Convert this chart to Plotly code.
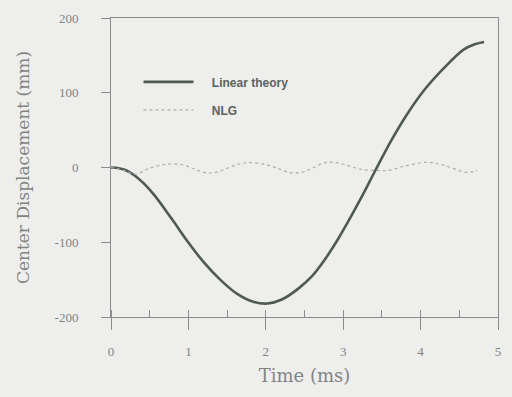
import plotly.graph_objects as go

# Linear theory curve
lin_t = [0.0, 0.1, 0.2, 0.31, 0.43, 0.56, 0.78, 0.99, 1.2, 1.42, 1.63, 1.85, 2.02, 2.2, 2.42, 2.6, 2.77, 2.92, 3.06, 3.24, 3.41, 3.62, 3.83, 4.05, 4.31, 4.56, 4.7, 4.82]
lin_v = [0, -1, -4, -11, -22, -37, -68, -99, -127, -151, -169, -180, -182, -177, -162, -145, -122, -98, -73, -39, -5, 36, 72, 104, 134, 158, 165, 168]

# NLG curve
nlg_t = [0.0, 0.1, 0.2, 0.31, 0.5, 0.69, 0.91, 1.05, 1.2, 1.33, 1.5, 1.63, 1.78, 2.0, 2.15, 2.3, 2.46, 2.6, 2.77, 2.9, 3.05, 3.23, 3.45, 3.58, 3.8, 4.09, 4.3, 4.6, 4.73]
nlg_v = [0, -2, -5, -9, -1, 4, 4, -1, -6.5, -7, -1, 4, 6.6, 4, -1, -6.6, -6.6, -1, 6.6, 6.6, 3, -2.6, -4, -4, 2, 7, 3, -6.6, -4]

x_ticks = [0, 1, 2, 3, 4, 5]
x_labels = ["0", "1", "2", "3", "4", "5"]
y_ticks = [-200, -100, 0, 100, 200]
y_labels = ["-200", "-100", "0", "100", "200"]

bg = "#eeeeec"
grey = "#838383"
axcol = "#8c8c8c"
serif = "Liberation Serif"
nb = "\u00a0"

fig = go.Figure()
fig.add_trace(go.Scatter(x=lin_t, y=lin_v, mode="lines", name=nb * 4 + "<b>Linear theory</b>",
                         line=dict(color="#4f5a55", width=2.6, shape="spline", smoothing=1.0),
                         legendgroup="a"))
fig.add_trace(go.Scatter(x=nlg_t, y=nlg_v, mode="lines", name=nb * 4 + "<b>NLG</b>",
                         line=dict(color="#a9aeac", width=1.2, dash="dot", shape="spline"),
                         legendgroup="b"))

fig.update_layout(
    width=512, height=397,
    margin=dict(l=111, r=11, t=13, b=80),
    paper_bgcolor=bg, plot_bgcolor=bg,
    showlegend=True,
    legend=dict(x=0.071, y=0.835, xanchor="left", yanchor="top",
                bgcolor="rgba(0,0,0,0)", tracegroupgap=9,
                font=dict(family="Liberation Sans", size=12, color="#5a635f"),
                itemwidth=50),
    xaxis=dict(range=[0, 5], tickvals=x_ticks, ticktext=x_labels, showline=True, linecolor=axcol,
               linewidth=1, mirror=True, showgrid=False, zeroline=False,
               ticks="outside", ticklen=12, tickcolor=axcol, ticklabelstandoff=10,
               minor=dict(dtick=0.5, ticks="inside", ticklen=7, tickcolor=axcol),
               tickfont=dict(family=serif, size=13, color=grey),
               title=dict(text="Time (ms)", standoff=11,
                          font=dict(family="DejaVu Serif", size=18, color=grey))),
    yaxis=dict(range=[-200, 200], tickvals=y_ticks, ticktext=y_labels, showline=True, linecolor=axcol,
               linewidth=1, mirror=True, showgrid=False, zeroline=False,
               ticks="outside", ticklen=9, tickcolor=axcol, ticklabelstandoff=20,
               tickfont=dict(family=serif, size=13, color=grey),
               title=dict(text="Center Displacement (mm)", standoff=20,
                          font=dict(family="DejaVu Serif", size=17, color=grey))),
)

fig.write_html("out.html")
